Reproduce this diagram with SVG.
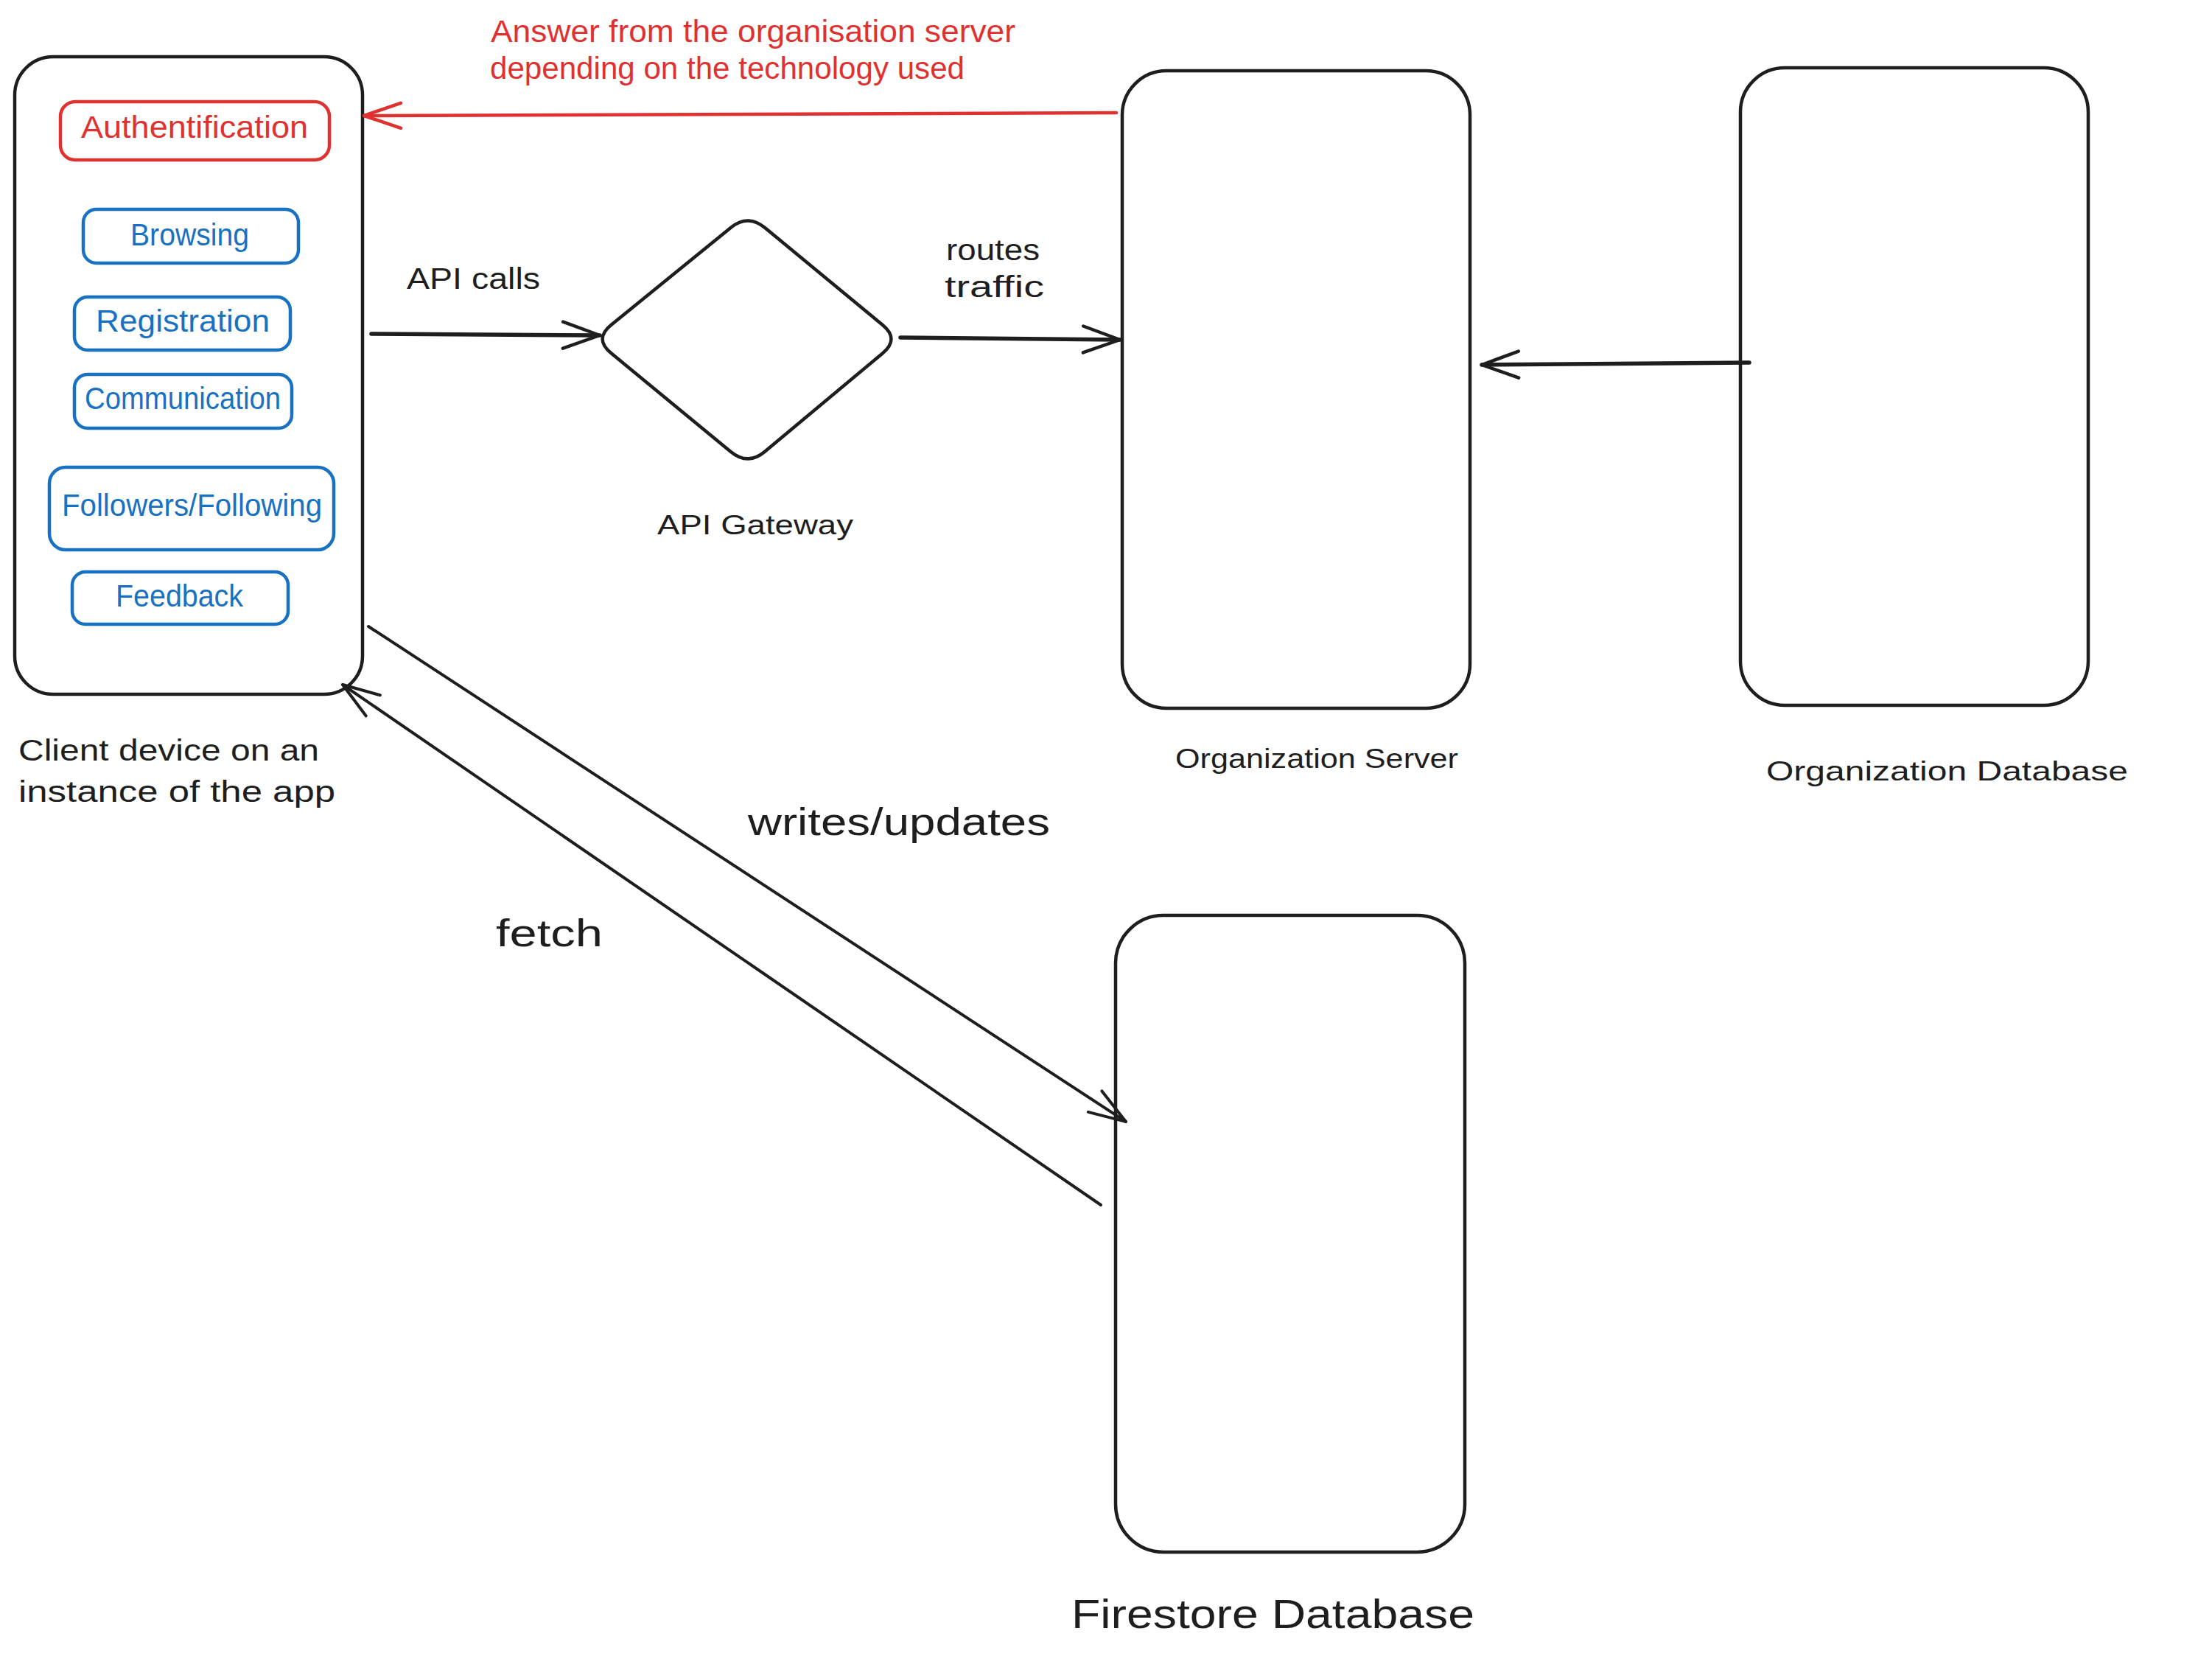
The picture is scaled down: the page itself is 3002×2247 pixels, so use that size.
<svg xmlns="http://www.w3.org/2000/svg" width="3002" height="2247" viewBox="0 0 3002 2247">
<style>
  .box { fill: #ffffff; stroke: #1e1e1e; stroke-width: 4.5; stroke-linejoin: round; }
  .btn { fill: none; stroke: #1971c2; stroke-width: 4.5; }
  .btnred { fill: none; stroke: #e03131; stroke-width: 4.5; }
  .t { font-family: "Liberation Sans", Arial, sans-serif; fill: #1e1e1e; }
  .tb { font-family: "Liberation Sans", Arial, sans-serif; fill: #1971c2; font-size: 42px; }
  .tr { font-family: "Liberation Sans", Arial, sans-serif; fill: #e03131; font-size: 42px; }
  .conn { fill: none; stroke: #1e1e1e; stroke-linecap: round; }
  .thick { stroke-width: 5.5; }
  .thin { stroke-width: 4; }
  .red { stroke: #e03131; stroke-width: 4.5; }
</style>
<defs>
  <marker id="ah" markerUnits="userSpaceOnUse" markerWidth="120" markerHeight="120" refX="0" refY="0" orient="auto" overflow="visible">
    <path d="M -50,-18 L 0,0 L -50,18" fill="none" stroke="#1e1e1e" stroke-width="4.5" stroke-linecap="round" stroke-linejoin="round"/>
  </marker>
  <marker id="ahThin" markerUnits="userSpaceOnUse" markerWidth="120" markerHeight="120" refX="0" refY="0" orient="auto" overflow="visible">
    <path d="M -50,-17 L 0,0 L -50,17" fill="none" stroke="#1e1e1e" stroke-width="4" stroke-linecap="round" stroke-linejoin="round"/>
  </marker>
  <marker id="ahRed" markerUnits="userSpaceOnUse" markerWidth="120" markerHeight="120" refX="0" refY="0" orient="auto" overflow="visible">
    <path d="M -50,-17 L 0,0 L -50,17" fill="none" stroke="#e03131" stroke-width="4.5" stroke-linecap="round" stroke-linejoin="round"/>
  </marker>
</defs>
<rect width="3002" height="2247" fill="#ffffff"/>

<g id="client-device">
  <rect class="box" x="20" y="77" width="472" height="865" rx="52"/>
  <text class="t" x="25" y="1032" font-size="40" textLength="408" lengthAdjust="spacingAndGlyphs">Client device on an</text>
  <text class="t" x="25" y="1088" font-size="40" textLength="430" lengthAdjust="spacingAndGlyphs">instance of the app</text>
</g>

<g id="authentification">
  <rect class="btnred" x="82" y="138" width="365" height="79" rx="20"/>
  <text class="tr" x="110" y="187" textLength="308" lengthAdjust="spacingAndGlyphs">Authentification</text>
</g>
<g id="browsing">
  <rect class="btn" x="113" y="284" width="292" height="73" rx="18"/>
  <text class="tb" x="177" y="333" textLength="161" lengthAdjust="spacingAndGlyphs">Browsing</text>
</g>
<g id="registration">
  <rect class="btn" x="101" y="403" width="293" height="72" rx="18"/>
  <text class="tb" x="130" y="450" textLength="236" lengthAdjust="spacingAndGlyphs">Registration</text>
</g>
<g id="communication">
  <rect class="btn" x="101" y="508" width="295" height="73" rx="18"/>
  <text class="tb" x="115" y="555" textLength="266" lengthAdjust="spacingAndGlyphs">Communication</text>
</g>
<g id="followers-following">
  <rect class="btn" x="67" y="634" width="386" height="112" rx="22"/>
  <text class="tb" x="84" y="700" textLength="353" lengthAdjust="spacingAndGlyphs">Followers/Following</text>
</g>
<g id="feedback">
  <rect class="btn" x="98" y="776" width="293" height="71" rx="18"/>
  <text class="tb" x="157" y="823" textLength="173" lengthAdjust="spacingAndGlyphs">Feedback</text>
</g>

<g id="api-gateway">
  <path class="box" d="M 1038.1,309.1 L 1197.9,440.9 Q 1221,460 1198,479.2 L 1038,612.8 Q 1015,632 991.8,612.9 L 829.2,479.1 Q 806,460 829.3,441.1 L 991.7,308.9 Q 1015,290 1038.1,309.1 Z"/>
  <text class="t" x="892" y="725" font-size="36" textLength="266" lengthAdjust="spacingAndGlyphs">API Gateway</text>
</g>

<g id="organization-server">
  <rect class="box" x="1523" y="96" width="472" height="865" rx="60"/>
  <text class="t" x="1595" y="1042" font-size="36" textLength="384" lengthAdjust="spacingAndGlyphs">Organization Server</text>
</g>

<g id="organization-database">
  <rect class="box" x="2362" y="92" width="472" height="865" rx="60"/>
  <text class="t" x="2397" y="1059" font-size="36" textLength="491" lengthAdjust="spacingAndGlyphs">Organization Database</text>
</g>

<g id="firestore-database">
  <rect class="box" x="1514" y="1242" width="474" height="864" rx="65"/>
  <text class="t" x="1454" y="2209" font-size="56" textLength="547" lengthAdjust="spacingAndGlyphs">Firestore Database</text>
</g>

<g id="connectors">
  <path class="conn red" d="M 1515,153 L 494,157" marker-end="url(#ahRed)"/>
  <text class="tr" x="666" y="57" textLength="712" lengthAdjust="spacingAndGlyphs">Answer from the organisation server</text>
  <text class="tr" x="665" y="107" textLength="644" lengthAdjust="spacingAndGlyphs">depending on the technology used</text>

  <path class="conn thick" d="M 504,453 L 814,455" marker-end="url(#ah)"/>
  <text class="t" x="552" y="392" font-size="40" textLength="181" lengthAdjust="spacingAndGlyphs">API calls</text>

  <path class="conn thick" d="M 1222,458 L 1520,461" marker-end="url(#ah)"/>
  <text class="t" x="1284" y="353" font-size="40" textLength="127" lengthAdjust="spacingAndGlyphs">routes</text>
  <text class="t" x="1282" y="403" font-size="40" textLength="135" lengthAdjust="spacingAndGlyphs">traffic</text>

  <path class="conn thick" d="M 2374,492 L 2011,495" marker-end="url(#ah)"/>

  <path class="conn thin" d="M 500,850 L 1528,1522" marker-end="url(#ahThin)"/>
  <text class="t" x="1015" y="1133" font-size="52" textLength="410" lengthAdjust="spacingAndGlyphs">writes/updates</text>

  <path class="conn thin" d="M 1494,1635 L 465,929" marker-end="url(#ahThin)"/>
  <text class="t" x="673" y="1284" font-size="52" textLength="145" lengthAdjust="spacingAndGlyphs">fetch</text>
</g>
</svg>
